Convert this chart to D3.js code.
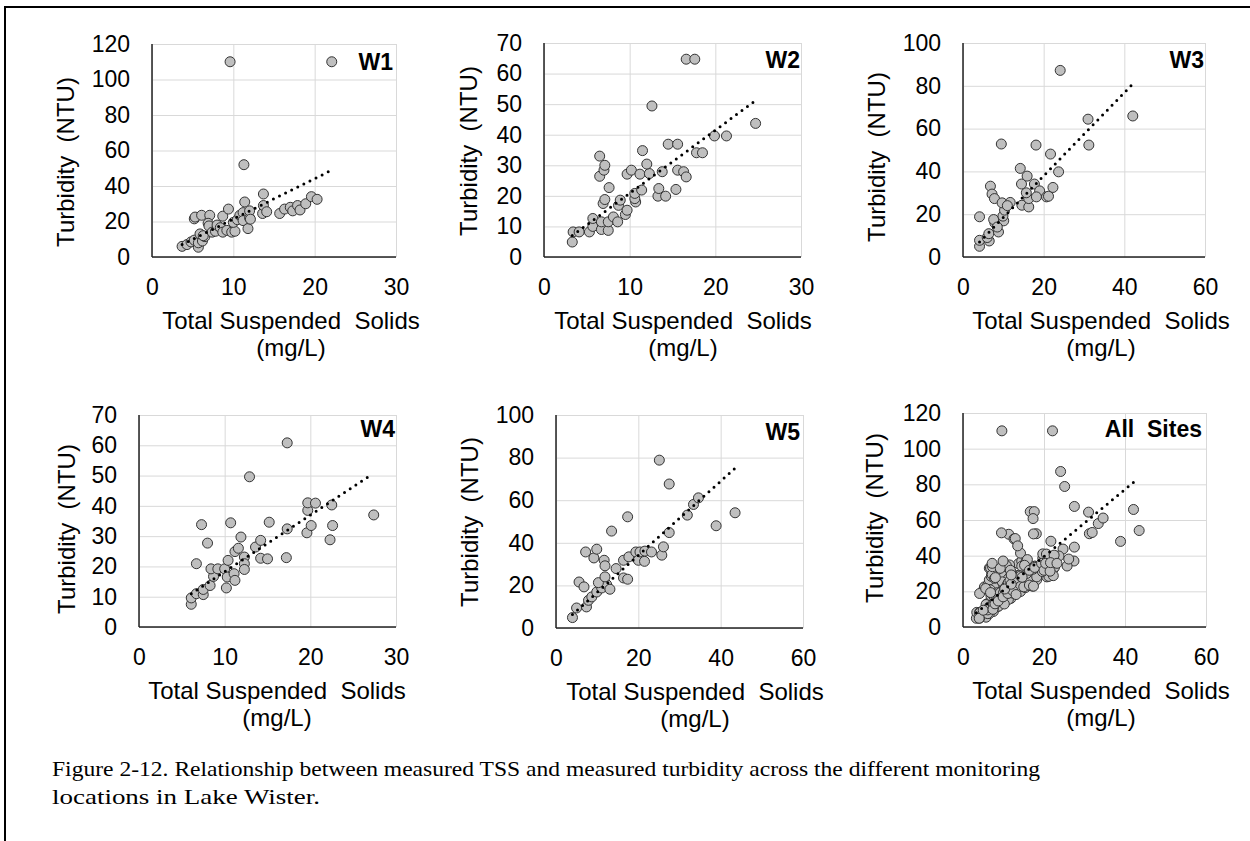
<!DOCTYPE html>
<html>
<head>
<meta charset="utf-8">
<script src="https://cdnjs.cloudflare.com/ajax/libs/d3/7.8.5/d3.min.js"></script>
<style>
  body { margin: 0; background: #fff; }
  svg text { font-family: "Liberation Sans", Arial, sans-serif; fill: #000; }
</style>
</head>
<body>
<script>
// points: [TSS (mg/L), turbidity (NTU)]
const w1 = [[3.7,6],[4.3,7],[4.8,8.5],[5.2,9.5],[5.7,5.5],[5.7,8],[6.2,9],[6.5,11.5],[5.9,13],[6.3,12],
  [5.2,21.5],[5.3,22.5],[6.1,23.5],[7.1,23.5],[6.9,19],[7.0,17.5],[7.4,14],[7.8,14.5],[8,18],[8.4,16.5],
  [8.7,23],[9.4,27],[8.7,14],[9.2,15],[9.8,14],[10.2,14.5],[10,19.5],[10.5,21],[10.8,23.5],[11.2,25],
  [11.4,31],[11.2,20.5],[11.8,16],[12,22],[12,26],[12.1,21.3],[13.6,24.5],[13.7,29],[13.7,35.5],[14.1,25.5],
  [15.7,24.5],[16.3,27],[17,28],[17.3,26],[17.9,29],[18.2,26.5],[18.9,30],[19.6,34],[20.3,32.5],[11.3,52],
  [9.6,110],[22.1,110]];
const w2 = [[3.3,4.9],[3.4,8.2],[4.1,8.2],[5.3,8.2],[5.7,10],[5.7,12.6],[6.7,9],[6.7,11.5],[7.5,8.7],[7.5,11.5],
  [8.1,13.1],[8.6,11.5],[6.9,17.5],[7.1,18.8],[7.6,22.7],[6.5,26.4],[7,28.4],[7.1,30],[6.5,33],[8.7,16.9],
  [8.9,18.6],[9.5,13.9],[9.7,15.3],[10.7,18],[10.6,19.1],[10.6,20.8],[11.4,21.9],[9.7,27.1],[10.2,28.4],[11.2,27.1],
  [12.3,27.3],[12,30.4],[11.5,34.8],[13.8,27.9],[13.3,19.9],[14.2,19.9],[13.4,22.4],[15.4,22.1],[15.6,28.4],[16.3,27.9],
  [16.6,26.2],[14.5,36.9],[15.6,36.9],[17.8,34.1],[18.5,34.1],[19.9,39.6],[21.3,39.6],[24.7,43.7],[12.6,49.4],
  [16.6,64.7],[17.6,64.7]];
const w3 = [[4.1,5],[4.1,7.8],[6.5,7.5],[6,9.1],[6.4,10.9],[8.8,11.7],[7.9,15.9],[7.6,17.5],[10.1,16.9],[9.9,19.1],
  [10.3,21.9],[4.1,18.8],[6.8,33.1],[7.2,29.4],[7.8,27.3],[9.7,25.3],[11.7,25.5],[14.6,24.2],[16.3,23.4],[16.3,27.3],
  [15.7,30],[14.5,34.1],[14.2,41.4],[15.9,37.8],[17.7,34.1],[19,30.9],[18.2,28.1],[20.7,28.1],[21.2,28.4],[22.3,32.5],
  [23.7,39.8],[21.7,48.1],[18.1,52.3],[9.5,52.8],[31,64.4],[31.2,52.3],[42.1,65.9],[24.1,87.2],[8.5,14],[11,24]];
const w4 = [[6.1,7.5],[6.1,9.6],[6.7,11],[7.5,10.7],[7.5,12.4],[8.3,13.7],[8.7,16.7],[8.4,19.2],[9.2,19.2],[10,19.2],
  [10.4,22],[10.3,16.5],[11.1,17.6],[11.2,15.4],[10.2,12.9],[6.7,20.9],[8,27.7],[7.3,33.8],[10.7,34.4],[11.2,24.9],
  [11.6,26],[11.9,29.7],[12.3,23.1],[12.3,20.9],[12.3,19],[13.6,26.4],[14.2,28.6],[14.2,22.7],[15,22.5],[15.2,34.6],
  [12.9,49.6],[17.2,22.9],[17.3,32.4],[17.3,60.8],[19.6,31.1],[20.1,33.5],[19.7,38.5],[19.7,41],[20.6,40.9],[22.5,40.3],
  [22.6,33.5],[22.3,28.8],[27.4,37]];
const w5 = [[4,4.9],[5,9.4],[7.4,9.9],[7.9,13],[8.7,14.6],[9.9,16.9],[11.1,18.8],[12.3,20.4],[13.1,18.2],[10.3,21.3],
  [11.9,24],[5.6,21.6],[6.8,19.3],[7.2,35.7],[9.2,32.9],[9.9,37],[11.7,31.8],[11.9,29.2],[13.5,45.5],[14.6,27.9],
  [16.4,23.5],[17.4,22.9],[16.4,31.8],[17.7,33.4],[17.4,52.2],[19.4,35.7],[20,31.8],[20.4,35.7],[21.5,31.3],[21.6,36.1],
  [23.2,35.7],[25.7,34.2],[26.1,38.1],[27.5,44.8],[25.1,78.8],[27.5,67.6],[31.9,53],[33.4,58],[34.6,61.1],[38.9,48],
  [43.5,54.1]];
const allSites = w1.concat(w2, w3, w4, w5);

// linear trendline end points, as drawn
const w1Trend = [[3.7,7],[22.2,49.2]];
const w2Trend = [[3.3,7],[24.8,51.4]];
const w3Trend = [[4.1,7],[42.3,81.3]];
const w4Trend = [[6.1,11],[27,50]];
const w5Trend = [[4,6.3],[43.9,75.7]];
const allTrend = [[3.3,8],[43.3,83.4]];

const ticks30 = [0,10,20,30];
const ticks60 = [0,20,40,60];
const ticks70 = [0,10,20,30,40,50,60,70];
const ticks100 = [0,20,40,60,80,100];
const ticks120 = [0,20,40,60,80,100,120];

const siteLabels = ["W1","W2","W3","W4","W5","All  Sites"];
const xTitle = "Total Suspended  Solids";
const xUnit = "(mg/L)";
const yTitle = "Turbidity  (NTU)";
const caption = ["Figure 2-12. Relationship between measured TSS and measured turbidity across the different monitoring",
                 "locations in Lake Wister."];
const captionWidth = [988, 268];

const panels = [
  {pts:w1, trend:w1Trend, xr:[152,396], yr:[257,44], xt:ticks30, yt:ticks120, tx:291, ytx:74, yty:162, ly:70, lx:393},
  {pts:w2, trend:w2Trend, xr:[544,801], yr:[257,43], xt:ticks30, yt:ticks70, tx:683, ytx:477, yty:151, ly:68, lx:800},
  {pts:w3, trend:w3Trend, xr:[963,1205], yr:[257,43], xt:ticks60, yt:ticks100, tx:1101, ytx:885, yty:157, ly:68, lx:1204},
  {pts:w4, trend:w4Trend, xr:[139,396], yr:[627,415], xt:ticks30, yt:ticks70, tx:277, ytx:75, yty:529, ly:437, lx:395},
  {pts:w5, trend:w5Trend, xr:[556,803], yr:[628,415], xt:ticks60, yt:ticks100, tx:695, ytx:478, yty:522, ly:440, lx:800},
  {pts:allSites, trend:allTrend, xr:[963,1206], yr:[627,413], xt:ticks60, yt:ticks120, tx:1101, ytx:883, yty:518, ly:437, lx:1202}
];

const w = 1250, h = 841;

const svg = d3.select("body")
  .append("svg")
  .attr("width", w)
  .attr("height", h);

svg.append("rect").attr("width", w).attr("height", h).attr("fill", "#fff");

// figure frame
svg.append("path")
  .attr("d", "M5," + h + "V7H" + w)
  .attr("fill", "none")
  .attr("stroke", "#000")
  .attr("stroke-width", 2);

panels.forEach(function(p, i){
  const x = d3.scaleLinear().domain([0, d3.max(p.xt)]).range(p.xr);
  const y = d3.scaleLinear().domain([0, d3.max(p.yt)]).range(p.yr);
  const g = svg.append("g");

  // gridlines
  g.append("g")
    .attr("transform", "translate(0," + p.yr[0] + ")")
    .call(d3.axisBottom(x).tickValues(p.xt).tickSize(-(p.yr[0]-p.yr[1])).tickFormat(""))
    .call(s => s.select(".domain").remove())
    .selectAll("line").attr("stroke", "#d9d9d9");
  g.append("g")
    .attr("transform", "translate(" + p.xr[0] + ",0)")
    .call(d3.axisLeft(y).tickValues(p.yt).tickSize(-(p.xr[1]-p.xr[0])).tickFormat(""))
    .call(s => s.select(".domain").remove())
    .selectAll("line").attr("stroke", "#d9d9d9");

  // tick labels
  const xa = g.append("g")
    .attr("transform", "translate(0," + p.yr[0] + ")")
    .call(d3.axisBottom(x).tickValues(p.xt).tickSize(0).tickPadding(22));
  const ya = g.append("g")
    .attr("transform", "translate(" + p.xr[0] + ",0)")
    .call(d3.axisLeft(y).tickValues(p.yt).tickSize(0).tickPadding(22));
  [xa, ya].forEach(function(a){
    a.select(".domain").remove();
    a.selectAll("text")
      .style("font-family", '"Liberation Sans", Arial, sans-serif')
      .style("font-size", "23px")
      .attr("fill", "#000");
  });

  // axis lines
  g.append("line")
    .attr("x1", p.xr[0]).attr("x2", p.xr[0])
    .attr("y1", p.yr[0]).attr("y2", p.yr[1])
    .attr("stroke", "#222").attr("stroke-width", 1.5);
  g.append("line")
    .attr("x1", p.xr[0]).attr("x2", p.xr[1])
    .attr("y1", p.yr[0]).attr("y2", p.yr[0])
    .attr("stroke", "#222").attr("stroke-width", 1.5);

  // points
  g.append("g")
    .selectAll("circle")
    .data(p.pts)
    .enter()
    .append("circle")
    .attr("cx", d => x(d[0]))
    .attr("cy", d => y(d[1]))
    .attr("r", 5)
    .attr("fill", "#bfbfbf")
    .attr("stroke", "#333")
    .attr("stroke-width", 1);

  // dotted trendline
  g.append("path")
    .datum(p.trend)
    .attr("d", d3.line().x(d => x(d[0])).y(d => y(d[1])))
    .attr("fill", "none")
    .attr("stroke", "#000")
    .attr("stroke-width", 3)
    .attr("stroke-linecap", "round")
    .attr("stroke-dasharray", "0 6.8");

  // titles
  g.append("text")
    .attr("x", p.tx).attr("y", p.yr[0] + 72)
    .attr("text-anchor", "middle")
    .style("font-size", "24px")
    .style("white-space", "pre")
    .text(xTitle);
  g.append("text")
    .attr("x", p.tx).attr("y", p.yr[0] + 99)
    .attr("text-anchor", "middle")
    .style("font-size", "24px")
    .text(xUnit);
  g.append("text")
    .attr("transform", "translate(" + p.ytx + "," + p.yty + ") rotate(-90)")
    .attr("text-anchor", "middle")
    .style("font-size", "24px")
    .style("white-space", "pre")
    .text(yTitle);
  g.append("text")
    .attr("x", p.lx).attr("y", p.ly)
    .attr("text-anchor", "end")
    .style("font-size", "23px")
    .style("font-weight", "bold")
    .style("white-space", "pre")
    .text(siteLabels[i]);
});

svg.selectAll(".caption")
  .data(caption)
  .enter()
  .append("text")
  .attr("class", "caption")
  .attr("x", 52)
  .attr("y", (d, i) => 776 + i * 28)
  .attr("textLength", (d, i) => captionWidth[i])
  .attr("lengthAdjust", "spacingAndGlyphs")
  .style("font-family", '"Liberation Serif", "Times New Roman", serif')
  .style("font-size", "22px")
  .text(d => d);
</script>
</body>
</html>
